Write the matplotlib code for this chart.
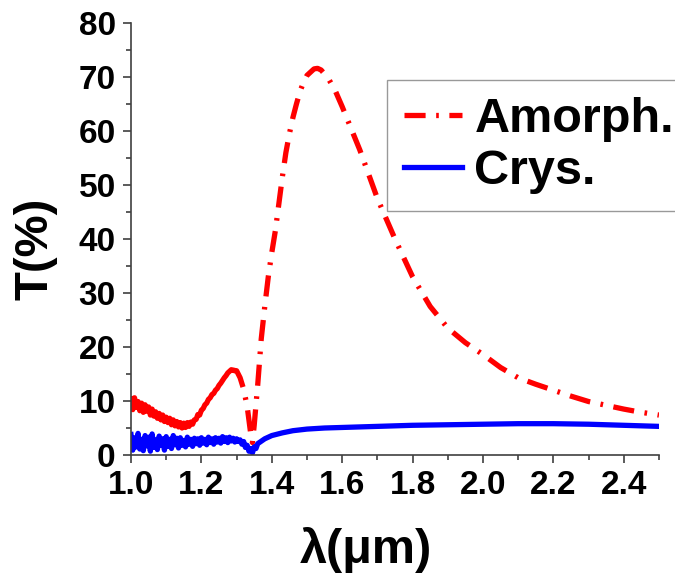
import matplotlib

matplotlib.use("Agg")
import matplotlib.pyplot as plt
from matplotlib.ticker import MultipleLocator

plt.rcParams["font.family"] = ["Liberation Sans", "DejaVu Sans"]
plt.rcParams["font.weight"] = "bold"

# Amorphous film, noisy short-wavelength part (solid looking in the original)
wl_amorph_noisy = [1.000, 1.005, 1.010, 1.015, 1.020, 1.025, 1.030, 1.035, 1.040, 1.045,
                   1.050, 1.055, 1.060, 1.065, 1.070, 1.075, 1.080, 1.085, 1.090, 1.095,
                   1.100, 1.105, 1.110, 1.115, 1.120, 1.125, 1.130, 1.135, 1.140, 1.145,
                   1.150, 1.155, 1.160, 1.165, 1.170, 1.175, 1.180, 1.185, 1.190, 1.195,
                   1.200, 1.205, 1.210, 1.215, 1.220, 1.225, 1.230, 1.235, 1.240, 1.245,
                   1.250, 1.255, 1.260, 1.265, 1.270, 1.275, 1.280, 1.285, 1.290]
t_amorph_noisy = [10.4, 8.4, 10.6, 8.8, 9.9, 8.2, 9.6, 7.9, 9.3, 8.1,
                  8.9, 7.4, 8.5, 7.2, 8.0, 6.8, 7.7, 6.5, 7.4, 6.2,
                  7.0, 6.0, 6.8, 5.6, 6.5, 5.4, 6.2, 5.2, 6.0, 5.0,
                  5.9, 5.1, 6.0, 5.3, 6.1, 5.7, 6.5, 6.6, 7.5, 7.4,
                  8.3, 8.6, 9.3, 9.6, 10.3, 10.6, 11.2, 11.4, 12.0, 12.3,
                  12.9, 13.3, 13.8, 14.3, 14.7, 15.2, 15.5, 15.8, 15.7]

# Amorphous film, rest of the spectrum
wl_amorph = [1.29, 1.30, 1.31, 1.32, 1.33, 1.34, 1.345, 1.35, 1.36, 1.37,
             1.38, 1.39, 1.40, 1.41, 1.42, 1.43, 1.44, 1.45, 1.46, 1.47,
             1.48, 1.49, 1.50, 1.52, 1.53, 1.54, 1.56, 1.58, 1.60, 1.65,
             1.70, 1.75, 1.80, 1.85, 1.90, 1.95, 2.00, 2.05, 2.10, 2.15,
             2.20, 2.25, 2.30, 2.35, 2.40, 2.45, 2.50]
t_amorph = [15.7, 15.6, 14.3, 12.2, 9.0, 4.0, 2.3, 5.5, 13.0, 21.5,
            27.5, 33.0, 37.5, 41.5, 46.5, 51.5, 56.0, 59.5, 62.5, 65.0,
            67.3, 69.0, 70.3, 71.5, 71.6, 71.3, 69.8, 67.5, 64.5, 56.5,
            47.5, 40.0, 33.0, 27.5, 23.5, 20.8, 18.6, 16.2, 14.3, 13.1,
            12.0, 10.9, 9.9, 9.2, 8.5, 7.9, 7.4]

# Crystalline film
wl_crys = [1.000, 1.005, 1.010, 1.015, 1.020, 1.025, 1.030, 1.035, 1.040, 1.045,
           1.050, 1.055, 1.060, 1.065, 1.070, 1.075, 1.080, 1.085, 1.090, 1.095,
           1.100, 1.105, 1.110, 1.115, 1.120, 1.125, 1.130, 1.135, 1.140, 1.145,
           1.150, 1.155, 1.160, 1.165, 1.170, 1.175, 1.180, 1.185, 1.190, 1.195,
           1.200, 1.205, 1.210, 1.215, 1.220, 1.225, 1.230, 1.235, 1.240, 1.245,
           1.250, 1.255, 1.260, 1.265, 1.270, 1.275, 1.280, 1.285, 1.290, 1.295,
           1.300, 1.305, 1.310, 1.315, 1.320, 1.325, 1.330, 1.335, 1.340, 1.345,
           1.350, 1.355, 1.360, 1.38, 1.40, 1.43, 1.46, 1.50, 1.55, 1.60,
           1.70, 1.80, 1.90, 2.00, 2.10, 2.20, 2.30, 2.40, 2.50]
t_crys = [3.8, 0.9, 3.2, 1.5, 4.0, 1.1, 2.9, 0.8, 3.6, 1.7,
          3.3, 0.7, 3.9, 1.4, 2.8, 1.0, 3.5, 1.8, 3.0, 0.9,
          3.4, 1.6, 2.9, 1.2, 3.6, 1.9, 3.1, 1.3, 3.2, 1.8,
          2.7, 1.5, 3.3, 2.0, 2.9, 1.6, 3.1, 2.1, 3.0, 1.8,
          3.2, 2.2, 2.9, 1.9, 3.3, 2.3, 3.0, 2.0, 3.2, 2.4,
          3.1, 2.2, 3.4, 2.5, 3.2, 2.3, 3.3, 2.6, 3.1, 2.4,
          3.0, 2.5, 2.8, 2.0, 2.5, 1.4, 1.8, 0.7, 1.2, 0.4,
          1.5, 1.2, 2.1, 3.0, 3.6, 4.1, 4.5, 4.8, 5.0, 5.1,
          5.3, 5.5, 5.6, 5.7, 5.8, 5.8, 5.7, 5.5, 5.3]

labels = ["Amorph.", "Crys."]

fig = plt.figure(figsize=(6.75, 5.75), dpi=100)
ax = fig.add_axes([131 / 675, 1 - 455 / 575, 528 / 675, 432 / 575])

red = "#ff0000"
blue = "#0000ff"

ax.plot(wl_amorph_noisy, t_amorph_noisy, color=red, lw=3.8, solid_joinstyle="round")
ax.plot(wl_amorph, t_amorph, color=red, lw=3.8,
        linestyle=(0, (4, 2, 0.5, 2)), label=labels[0])
ax.plot(wl_crys, t_crys, color=blue, lw=3.8, label=labels[1])

ax.set_xlim(1.0, 2.5)
ax.set_ylim(0, 80)
ax.xaxis.set_major_locator(MultipleLocator(0.2))
ax.xaxis.set_minor_locator(MultipleLocator(0.1))
ax.yaxis.set_major_locator(MultipleLocator(10))
ax.yaxis.set_minor_locator(MultipleLocator(5))
ax.set_xticks([1.0, 1.2, 1.4, 1.6, 1.8, 2.0, 2.2, 2.4])

for side in ["top", "right"]:
    ax.spines[side].set_visible(False)
for side in ["left", "bottom"]:
    ax.spines[side].set_color("#404040")
    ax.spines[side].set_linewidth(1.2)

ax.tick_params(which="major", direction="out", length=6, width=1.2,
               color="#404040", labelsize=24, pad=5)
ax.tick_params(which="minor", direction="out", length=3.5, width=1.2,
               color="#404040")
for lab in ax.get_xticklabels() + ax.get_yticklabels():
    lab.set_fontweight("bold")

fig.text(366 / 675, 1 - 550 / 575, "λ(μm)", fontsize=35, fontweight="bold",
         ha="center", va="center")
fig.text(35 / 675, 1 - 249 / 575, "T(%)", fontsize=34, fontweight="bold",
         rotation=90, ha="center", va="center")

leg = ax.legend(loc="upper left", bbox_to_anchor=(387 / 675, 1 - 80 / 575),
                bbox_transform=fig.transFigure, borderaxespad=0,
                handlelength=1.2, handletextpad=0.25,
                borderpad=0.35, labelspacing=0.15, fancybox=False,
                framealpha=1, edgecolor="#999999",
                prop={"weight": "bold", "size": 35})
leg.get_frame().set_linewidth(1.0)

fig.savefig("out.png", dpi=100)
